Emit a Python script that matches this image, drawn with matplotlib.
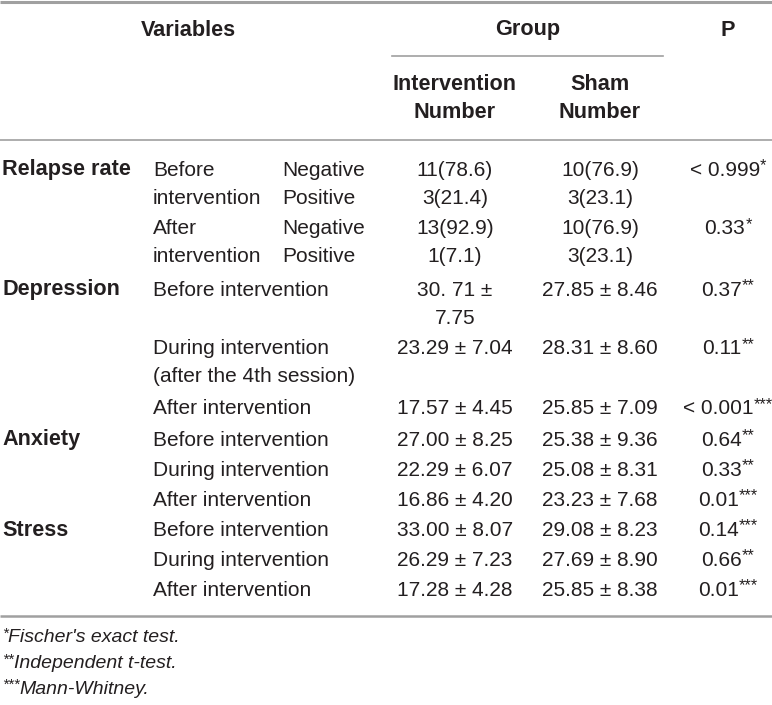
import matplotlib
matplotlib.use("Agg")
from matplotlib import pyplot as plt

# dados da tabela
variaveis = ['Relapse rate', 'Depression', 'Anxiety', 'Stress']
momentos = [
    ['Before\nintervention', 'After\nintervention'],
    ['Before intervention', 'During intervention\n(after the 4th session)', 'After intervention'],
    ['Before intervention', 'During intervention', 'After intervention'],
    ['Before intervention', 'During intervention', 'After intervention'],
]
resultado = ['Negative\nPositive', 'Negative\nPositive']
intervencao = ['11(78.6)\n3(21.4)', '13(92.9)\n1(7.1)',
               '30. 71 \u00b1\n7.75', '23.29 \u00b1 7.04', '17.57 \u00b1 4.45',
               '27.00 \u00b1 8.25', '22.29 \u00b1 6.07', '16.86 \u00b1 4.20',
               '33.00 \u00b1 8.07', '26.29 \u00b1 7.23', '17.28 \u00b1 4.28']
sham = ['10(76.9)\n3(23.1)', '10(76.9)\n3(23.1)',
        '27.85 \u00b1 8.46', '28.31 \u00b1 8.60', '25.85 \u00b1 7.09',
        '25.38 \u00b1 9.36', '25.08 \u00b1 8.31', '23.23 \u00b1 7.68',
        '29.08 \u00b1 8.23', '27.69 \u00b1 8.90', '25.85 \u00b1 8.38']
p_valor = ['< 0.999*', '0.33*',
           '0.37**', '0.11**', '< 0.001***',
           '0.64**', '0.33**', '0.01***',
           '0.14***', '0.66**', '0.01***']
notas = ["*Fischer's exact test.", '**Independent t-test.', '***Mann-Whitney.']

# posicao (centro da primeira linha de texto) de cada linha da tabela, em pixels
linhas_y = [170, 229, 290, 349, 409, 440, 470, 500, 530, 560, 590]

W, H = 772, 705
fig = plt.figure(figsize=(W / 100, H / 100), dpi=100)
ax = fig.add_axes([0, 0, 1, 1])
ax.set_xlim(0, W)
ax.set_ylim(H, 0)
ax.axis('off')
renderer = fig.canvas.get_renderer()

cor_texto = '#231f20'
cor_linha = '#a0a0a0'
fonte = 'Liberation Sans'
tam = 15.0
tam_bold = 15.6
passo = 28  # distancia entre linhas de texto dentro da celula

def texto(x, y, s, ha='left', bold=False, italic=False, size=None):
    if size is None:
        size = tam_bold if bold else tam
    for m, parte in enumerate(s.split('\n')):
        ax.text(x, y + m * passo, parte, ha=ha, va='center', fontsize=size,
                family=fonte, color=cor_texto,
                fontweight='bold' if bold else 'normal',
                fontstyle='italic' if italic else 'normal')

def texto_sobrescrito(xc, y, s, size=None, italic=False, ha='center'):
    # asteriscos pequenos e elevados, como no original
    if size is None:
        size = tam
    base = s.rstrip('*')
    estrelas = s[len(base):]
    if ha == 'left':
        base, estrelas = s.lstrip('*'), s[:len(s) - len(s.lstrip('*'))]
    estilo = 'italic' if italic else 'normal'
    t1 = ax.text(0, y, base, ha='left', va='center', fontsize=size,
                 family=fonte, color=cor_texto, fontstyle=estilo)
    t2 = ax.text(0, y - 4, estrelas, ha='left', va='center', fontsize=size * 0.78,
                 family=fonte, color=cor_texto, fontstyle=estilo)
    w1 = t1.get_window_extent(renderer).width
    w2 = t2.get_window_extent(renderer).width if estrelas else 0
    if ha == 'center':
        x0 = xc - (w1 + w2) / 2
        t1.set_x(x0)
        t2.set_x(x0 + w1)
    else:
        t2.set_x(xc)
        t1.set_x(xc + w2)

# linhas horizontais
ax.plot([0, W], [1.5, 1.5], color=cor_linha, lw=2.2, solid_capstyle='butt')
ax.plot([392, 663], [56, 56], color=cor_linha, lw=1.2)
ax.plot([0, W], [140, 140], color=cor_linha, lw=1.2)
ax.plot([0, W], [616, 616], color=cor_linha, lw=1.8, solid_capstyle='butt')

# cabecalho
texto(188, 30, 'Variables', ha='center', bold=True)
texto(528, 30, 'Group', ha='center', bold=True)
texto(728, 30, 'P', ha='center', bold=True)
texto(455, 85, 'Intervention\nNumber', ha='center', bold=True)
texto(600, 85, 'Sham\nNumber', ha='center', bold=True)

# corpo
k = 0
for i, var in enumerate(variaveis):
    texto(2, linhas_y[k], var, bold=True)
    for j, mom in enumerate(momentos[i]):
        y = linhas_y[k]
        texto(153, y, mom)
        if i == 0:
            texto(282, y, resultado[j])
        texto(455, y, intervencao[k], ha='center')
        texto(600, y, sham[k], ha='center')
        texto_sobrescrito(728, y, p_valor[k])
        k += 1

# notas de rodape
for n, y in zip(notas, [638, 664, 689]):
    texto_sobrescrito(2, y, n, size=14.0, italic=True, ha='left')

fig.savefig('out.png', dpi=100)
